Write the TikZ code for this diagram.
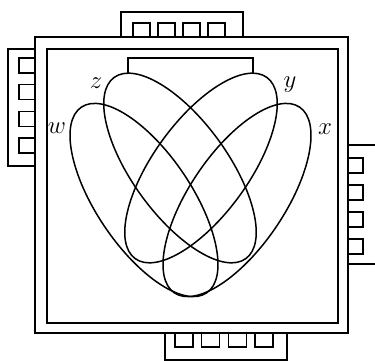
\documentclass[tikz,border=0pt]{standalone}
\usetikzlibrary{positioning}
\begin{document}
\begin{tikzpicture}[
    x=1pt, y=-1pt,
    frame/.style={draw, line width=1.6pt},
    venn/.style={draw, line width=1.5pt},
    slot/.style={draw, line width=1.3pt},
    setlabel/.style={font=\Huge, inner sep=0pt}
]
\useasboundingbox (0,0) rectangle (375,361);
\clip (0,0) rectangle (375,361);

% double frame
\draw[frame] (35,37) rectangle (348,333);
\draw[frame] (47,49) rectangle (338,323);

% tabs on the four sides
\draw[frame] (121,37) -- (121,12) -- (243,12) -- (243,37);
\draw[frame] (35,49) -- (8,49) -- (8,166) -- (35,166);
\draw[frame] (348,145) -- (385,145);
\draw[frame] (348,264) -- (385,264);
\draw[frame] (165,333) -- (165,360) -- (287,360) -- (287,333);

% slots
\foreach \i in {0,...,3} {
  \draw[slot] (133+25*\i,37) -- (133+25*\i,23) -- (150+25*\i,23) -- (150+25*\i,37);
  \draw[slot] (35,58+26.7*\i) -- (19,58+26.7*\i) -- (19,73+26.7*\i) -- (35,73+26.7*\i);
  \draw[slot] (348,158+27*\i) -- (363,158+27*\i) -- (363,173+27*\i) -- (348,173+27*\i);
  \draw[slot] (175+26.7*\i,333) -- (175+26.7*\i,347) -- (193+26.7*\i,347) -- (193+26.7*\i,333);
}

% bracket joining z and y
\draw[venn] (128,74) -- (128,58) -- (253,58) -- (253,74);

% the four ellipses
\foreach \cx/\cy/\ang in {144/200/-56, 180/168/-54, 201/168/54, 237/200/56}
  \draw[venn, rotate around={\ang:(\cx,\cy)}] (\cx,\cy) ellipse [x radius=112, y radius=47.5];

% labels
\node[setlabel] (lw) at (57,128) {$w$};
\node[setlabel] (lz) at (96,83) {$z$};
\node[setlabel] (ly) at (290,85) {$y$};
\node[setlabel] (lx) at (325,129) {$x$};

\end{tikzpicture}
\end{document}
